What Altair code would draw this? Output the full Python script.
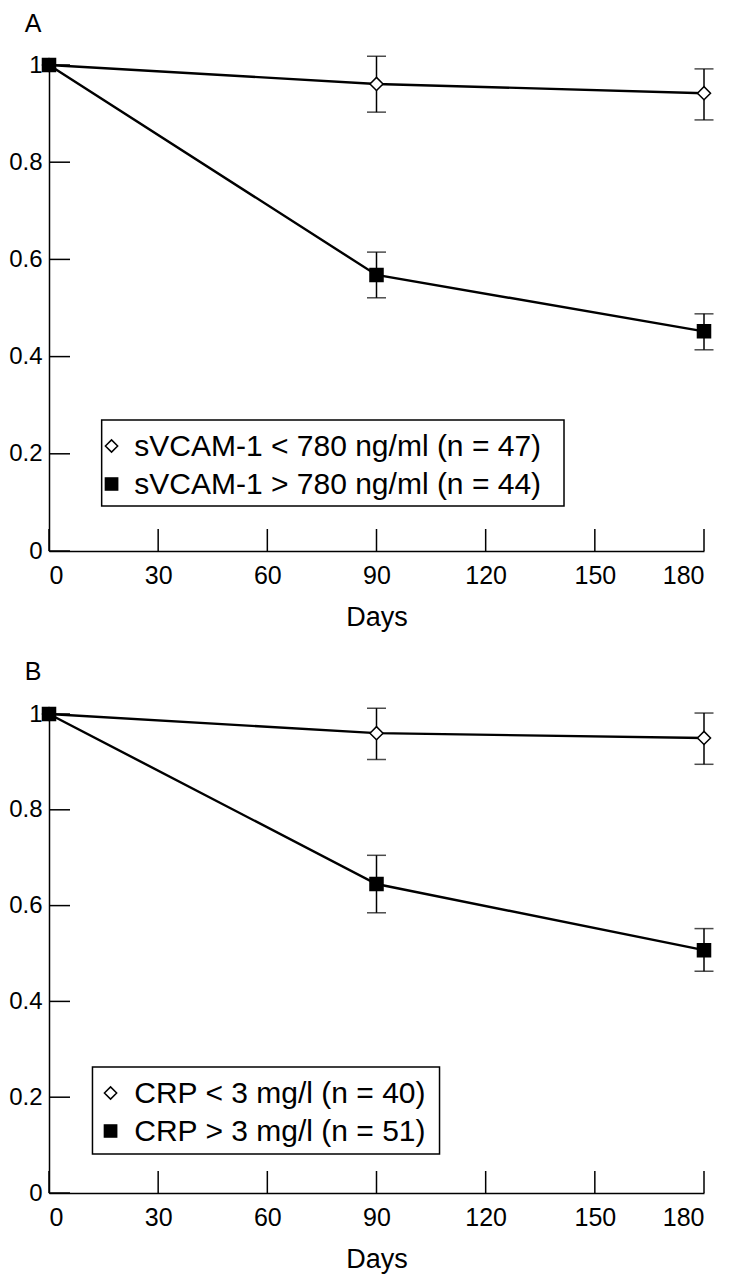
import altair as alt
import pandas as pd

days = [0, 90, 180]
x_ticks = [0, 30, 60, 90, 120, 150, 180]
y_ticks = [0, 0.2, 0.4, 0.6, 0.8, 1.0]

a_labels = ["sVCAM-1 < 780 ng/ml (n = 47)", "sVCAM-1 > 780 ng/ml (n = 44)"]
a_low = [1.0, 0.961, 0.942]
a_low_lo = [None, 0.903, 0.887]
a_low_hi = [None, 1.018, 0.992]
a_high = [1.0, 0.568, 0.452]
a_high_lo = [None, 0.521, 0.414]
a_high_hi = [None, 0.615, 0.488]

b_labels = ["CRP < 3 mg/l (n = 40)", "CRP > 3 mg/l (n = 51)"]
b_low = [1.0, 0.96, 0.95]
b_low_lo = [None, 0.905, 0.895]
b_low_hi = [None, 1.012, 1.002]
b_high = [1.0, 0.645, 0.507]
b_high_lo = [None, 0.585, 0.463]
b_high_hi = [None, 0.705, 0.552]

FONT = "Liberation Sans"
W = 655
SX = W / 663.0


def one(v):
    return alt.Chart(alt.InlineData(values=[{"label": v}]))


def panel(letter, labels, low, low_lo, low_hi, high, high_lo, high_hi, H, box, rows_y, sym_x, txt_x, toff):
    rows = []
    for g, v, lo, hi in [(labels[0], low, low_lo, low_hi), (labels[1], high, high_lo, high_hi)]:
        for d, val, l, h in zip(days, v, lo, hi):
            rows.append(dict(group=g, day=d, value=val, lo=l, hi=h))
    df = pd.DataFrame(rows)

    x = alt.X("day:Q", scale=alt.Scale(domain=[0, 180], nice=False, zero=False),
              axis=alt.Axis(values=x_ticks, title="Days", labelPadding=12, titlePadding=16,
                            labelFontSize=25))
    y = alt.Y("value:Q", scale=alt.Scale(domain=[0, 1], nice=False),
              axis=alt.Axis(values=y_ticks, title=None, format="~g", labelPadding=7))

    boxl = one("").mark_rect(fill="white", stroke="black", strokeWidth=1.5).encode(
        x=alt.value(box[0]), x2=alt.value(box[1]), y=alt.value(box[2]), y2=alt.value(box[3]))
    leg = []
    for i, (lab, shp, fil) in enumerate(zip(labels, ["diamond", "square"], ["white", "black"])):
        leg.append(one(lab).mark_point(shape=shp, filled=True, fill=fil, stroke="black", strokeWidth=1.5,
                                       size=150, opacity=1).encode(x=alt.value(sym_x), y=alt.value(rows_y[i])))
        leg.append(one(lab).mark_text(align="left", baseline="middle", font=FONT, fontSize=30,
                                      color="black").encode(text="label:N", x=alt.value(txt_x), y=alt.value(rows_y[i] + 1)))

    yt = alt.Chart(pd.DataFrame({"value": y_ticks})).mark_rule(color="black", strokeWidth=1.5).encode(
        y=y, x=alt.value(0), x2=alt.value(21))
    xt = alt.Chart(pd.DataFrame({"day": x_ticks})).mark_rule(color="black", strokeWidth=1.5).encode(
        x=x, y=alt.value(H), y2=alt.value(H - 22))

    base = alt.Chart(df)
    lines = base.mark_line(color="black", strokeWidth=2.4).encode(x=x, y=y, detail="group:N")
    eb = base.transform_filter("datum.lo != null")
    err = eb.mark_rule(color="black", strokeWidth=1.5).encode(x="day:Q", y="lo:Q", y2="hi:Q")
    cap_lo = eb.mark_tick(orient="horizontal", size=19, thickness=1.5, color="black").encode(x="day:Q", y="lo:Q")
    cap_hi = eb.mark_tick(orient="horizontal", size=19, thickness=1.5, color="black").encode(x="day:Q", y="hi:Q")
    pts = base.mark_point(filled=True, size=170, stroke="black", strokeWidth=1.5, opacity=1).encode(
        x=x, y=y,
        shape=alt.Shape("group:N", scale=alt.Scale(domain=labels, range=["diamond", "square"]), legend=None),
        fill=alt.Fill("group:N", scale=alt.Scale(domain=labels, range=["white", "black"]), legend=None),
    )
    return alt.layer(yt, xt, lines, err, cap_lo, cap_hi, pts, boxl, *leg).properties(
        width=W, height=H,
        title=alt.TitleParams(letter, anchor="start", fontSize=25, fontWeight="normal", font=FONT,
                              color="black", dx=16, offset=toff),
    )


HA = 486
HB = 479
pa = panel("A", a_labels, a_low, a_low_lo, a_low_hi, a_high, a_high_lo, a_high_hi, HA,
           box=(53.3 * SX, 521.3 * SX, 355, 441), rows_y=(381, 419), sym_x=63.3 * SX, txt_x=86.3 * SX,
           toff=16)
pb = panel("B", b_labels, b_low, b_low_lo, b_low_hi, b_high, b_high_lo, b_high_hi, HB,
           box=(44 * SX, 395.3 * SX, 353, 440), rows_y=(379, 417), sym_x=62.3 * SX, txt_x=86.3 * SX,
           toff=17)

chart = alt.vconcat(pa, pb, spacing=30).resolve_scale(
    shape="independent", fill="independent"
).properties(
    padding={"left": 0, "top": 4, "right": 2, "bottom": 2}
).configure_view(stroke=None).configure_axis(
    domainColor="black", domainWidth=1.5, ticks=False, grid=False,
    labelFont=FONT, labelFontSize=24, labelColor="black",
    titleFont=FONT, titleFontSize=27, titleFontWeight="normal", titleColor="black",
)

chart.save("out.html", embed_options={"renderer": "svg", "actions": False})
